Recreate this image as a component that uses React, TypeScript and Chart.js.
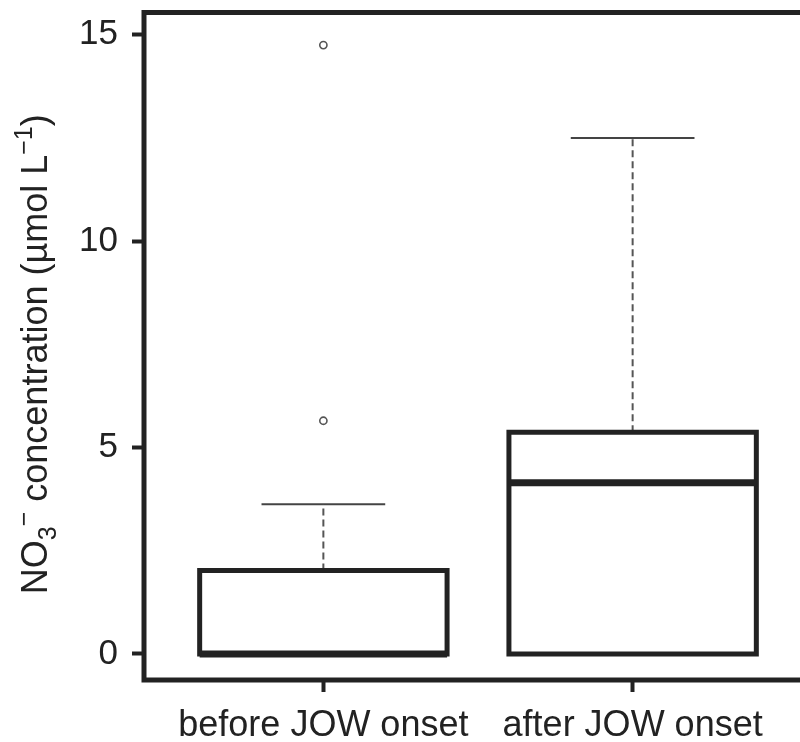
import React, { useEffect, useRef } from "react";
import { Chart, registerables } from "chart.js";

Chart.register(...registerables);

// ---- data ----
const categories = ["before JOW onset", "after JOW onset"];
const positions = [1, 2];
const lowerWhisker = [0, 0];
const q1 = [0, 0];
const median = [0, 4.15];
const q3 = [2.02, 5.37];
const upperWhisker = [3.63, 12.5];
const outliers = [[5.65, 14.75], []];
const yTicks = [0, 5, 10, 15];

// ---- style ----
const FONT = "'Liberation Sans', Arial, Helvetica, sans-serif";
const INK = "#222222";
const BOX_HALF = 0.4;
const CAP_HALF = 0.2;

function lineDs(points: { x: number; y: number }[], extra: any) {
  return {
    type: "line",
    data: points,
    showLine: true,
    pointRadius: 0,
    pointHoverRadius: 0,
    fill: false,
    tension: 0,
    ...extra,
  };
}

function buildDatasets() {
  const ds: any[] = [];
  positions.forEach((p, i) => {
    // median
    ds.push(
      lineDs(
        [
          { x: p - BOX_HALF, y: median[i] },
          { x: p + BOX_HALF, y: median[i] },
        ],
        { borderColor: INK, borderWidth: 7, borderCapStyle: "butt" }
      )
    );
    // box
    ds.push(
      lineDs(
        [
          { x: p - BOX_HALF, y: q1[i] },
          { x: p + BOX_HALF, y: q1[i] },
          { x: p + BOX_HALF, y: q3[i] },
          { x: p - BOX_HALF, y: q3[i] },
          { x: p - BOX_HALF, y: q1[i] },
        ],
        {
          borderColor: INK,
          borderWidth: 5,
          borderJoinStyle: "miter",
          borderCapStyle: "square",
        }
      )
    );
  });
  positions.forEach((p, i) => {
    // whiskers (dashed)
    ds.push(
      lineDs(
        [
          { x: p, y: q3[i] },
          { x: p, y: upperWhisker[i] },
        ],
        { borderColor: "#555555", borderWidth: 2, borderDash: [7, 4] }
      )
    );
    ds.push(
      lineDs(
        [
          { x: p, y: q1[i] },
          { x: p, y: lowerWhisker[i] },
        ],
        { borderColor: "#555555", borderWidth: 2, borderDash: [7, 4] }
      )
    );
    // staples
    ds.push(
      lineDs(
        [
          { x: p - CAP_HALF, y: upperWhisker[i] },
          { x: p + CAP_HALF, y: upperWhisker[i] },
        ],
        { borderColor: "#444444", borderWidth: 2 }
      )
    );
    ds.push(
      lineDs(
        [
          { x: p - CAP_HALF, y: lowerWhisker[i] },
          { x: p + CAP_HALF, y: lowerWhisker[i] },
        ],
        { borderColor: "#444444", borderWidth: 2 }
      )
    );
  });
  // outliers
  const pts: { x: number; y: number }[] = [];
  positions.forEach((p, i) => outliers[i].forEach((v) => pts.push({ x: p, y: v })));
  ds.push({
    type: "scatter",
    data: pts,
    pointStyle: "circle",
    pointRadius: 3.6,
    pointHoverRadius: 3.6,
    borderWidth: 1.6,
    borderColor: "#555555",
    backgroundColor: "rgba(0,0,0,0)",
  });
  return ds;
}

const framePlugin = {
  id: "frame",
  afterDraw(chart: any) {
    const { ctx, chartArea } = chart;
    const { left, top, right, bottom } = chartArea;
    ctx.save();
    ctx.strokeStyle = INK;
    ctx.lineWidth = 5;
    ctx.lineJoin = "miter";
    ctx.strokeRect(left, top, right - left, bottom - top);
    ctx.restore();
  },
};

const titlePlugin = {
  id: "ytitle",
  afterDraw(chart: any) {
    const { ctx, chartArea } = chart;
    const size = 36;
    const segs = [
      { t: "NO", s: 1, dy: 0 },
      { t: "3", s: 0.7, dy: 0.25 },
      { t: "\u2212", s: 0.7, dy: -0.42 },
      { t: " concentration (\u00B5mol L", s: 1, dy: 0 },
      { t: "\u22121", s: 0.7, dy: -0.42 },
      { t: ")", s: 1, dy: 0 },
    ];
    ctx.save();
    let total = 0;
    const widths = segs.map((g) => {
      ctx.font = `${Math.round(size * g.s)}px ${FONT}`;
      const w = ctx.measureText(g.t).width;
      total += w;
      return w;
    });
    const cy = (chartArea.top + chartArea.bottom) / 2 + 8;
    ctx.translate(47, cy);
    ctx.rotate(-Math.PI / 2);
    ctx.fillStyle = INK;
    ctx.textBaseline = "alphabetic";
    ctx.textAlign = "left";
    let x = -total / 2;
    segs.forEach((g, i) => {
      ctx.font = `${Math.round(size * g.s)}px ${FONT}`;
      ctx.fillText(g.t, x, g.dy * size);
      x += widths[i];
    });
    ctx.restore();
  },
};

export default function App() {
  const ref = useRef<HTMLCanvasElement | null>(null);
  useEffect(() => {
    if (!ref.current) return;
    const chart = new Chart(ref.current, {
      type: "scatter",
      data: { datasets: buildDatasets() as any },
      options: {
        animation: false,
        responsive: false,
        devicePixelRatio: 1,
        layout: { padding: { top: 12.5, right: 18, left: 0, bottom: 0 } },
        plugins: {
          legend: { display: false },
          tooltip: { enabled: false },
          title: { display: false },
        },
        scales: {
          x: {
            type: "linear",
            min: 0.42,
            max: 2.58,
            afterBuildTicks: (s: any) => {
              s.ticks = positions.map((v) => ({ value: v }));
            },
            afterFit: (s: any) => {
              s.height = 62;
              s.paddingLeft = 0;
              s.paddingRight = 0;
            },
            ticks: {
              callback: (v: any) => categories[positions.indexOf(Number(v))] ?? "",
              font: { size: 36, family: FONT },
              color: INK,
              padding: 12,
              maxRotation: 0,
              autoSkip: false,
            },
            grid: {
              display: true,
              drawOnChartArea: false,
              drawTicks: true,
              tickLength: 12,
              tickWidth: 4,
              tickColor: INK,
            },
            border: { display: false },
          },
          y: {
            type: "linear",
            min: -0.63,
            max: 15.54,
            afterBuildTicks: (s: any) => {
              s.ticks = yTicks.map((v) => ({ value: v }));
            },
            afterFit: (s: any) => {
              s.width = 144;
              s.paddingTop = 0;
              s.paddingBottom = 0;
            },
            ticks: {
              font: { size: 35, family: FONT },
              color: INK,
              padding: 14,
              autoSkip: false,
            },
            grid: {
              display: true,
              drawOnChartArea: false,
              drawTicks: true,
              tickLength: 12,
              tickWidth: 4,
              tickColor: INK,
            },
            border: { display: false },
          },
        },
      } as any,
      plugins: [framePlugin, titlePlugin],
    });
    return () => chart.destroy();
  }, []);
  return (
    <div
      style={{
        position: "absolute",
        left: 0,
        top: 0,
        width: 800,
        height: 742,
        overflow: "hidden",
        background: "#fff",
      }}
    >
      <canvas ref={ref} width={830} height={742} style={{ width: 830, height: 742 }} />
    </div>
  );
}
